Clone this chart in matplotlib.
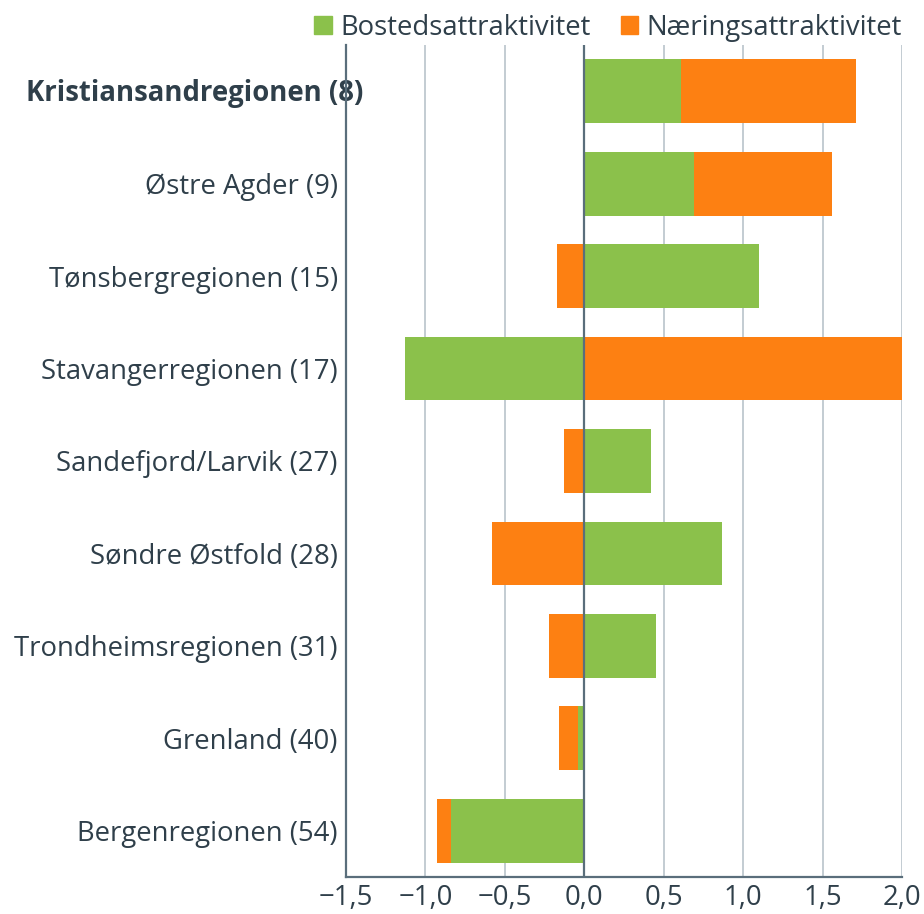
import matplotlib.pyplot as plt
import numpy as np
from matplotlib.ticker import FuncFormatter
from matplotlib.patches import Patch
from matplotlib.transforms import blended_transform_factory

plt.rcParams['font.family'] = ['Open Sans', 'DejaVu Sans']

regions = ['Kristiansandregionen (8)', 'Østre Agder (9)', 'Tønsbergregionen (15)',
           'Stavangerregionen (17)', 'Sandefjord/Larvik (27)', 'Søndre Østfold (28)',
           'Trondheimsregionen (31)', 'Grenland (40)', 'Bergenregionen (54)']
bosted = [0.61, 0.69, 1.10, -1.13, 0.42, 0.87, 0.45, -0.04, -0.84]
naering = [1.10, 0.87, -0.17, 2.10, -0.13, -0.58, -0.22, -0.12, -0.09]

green = '#8bc14b'
orange = '#fd8012'
txt = '#2f3f4a'
dark = '#5a6e7b'
fs = 19.8

fig = plt.figure(figsize=(9.24, 9.14), dpi=100)
ax = fig.add_axes([346/924, 1 - 877/914, (902-346)/924, (877-45)/914])

y = np.arange(len(regions))
b = np.array(bosted)
n = np.array(naering)
# stack negative onto negative, positive onto positive
n_left = np.where(np.sign(n) == np.sign(b), b, 0)

ax.barh(y, b, height=0.69, color=green, zorder=3)
ax.barh(y, n, left=n_left, height=0.69, color=orange, zorder=3)

ax.set_xlim(-1.5, 2.0)
ax.set_ylim(len(regions) - 0.5, -0.5)
ax.set_xticks(np.arange(-1.5, 2.01, 0.5))
ax.xaxis.set_major_formatter(FuncFormatter(lambda v, p: f'{v:.1f}'.replace('.', ',').replace('-', '\u2212')))
ax.grid(axis='x', color='#b9c4cb', linewidth=1.2, zorder=0)
ax.axvline(0, color=dark, linewidth=1.6, zorder=4)

ax.set_yticks(y)
ax.set_yticklabels([''] + regions[1:])
ax.tick_params(axis='y', length=0, pad=6, labelsize=fs, labelcolor=txt)
ax.tick_params(axis='x', length=0, pad=5, labelsize=fs, labelcolor=txt)

# bold first label sticks out over the axis line like in the original
ax.text(363/924, y[0] + 0.02, regions[0], transform=blended_transform_factory(fig.transFigure, ax.transData),
        ha='right', va='center', fontsize=fs, fontweight='bold', color=txt, zorder=1)

for s in ['top', 'right']:
    ax.spines[s].set_visible(False)
ax.spines['left'].set_color(dark)
ax.spines['left'].set_linewidth(1.6)
ax.spines['left'].set_zorder(5)
ax.spines['bottom'].set_color(dark)
ax.spines['bottom'].set_linewidth(1.6)

handles = [Patch(color=green, label='Bostedsattraktivitet'),
           Patch(color=orange, label='Næringsattraktivitet')]
leg = fig.legend(handles=handles, loc='upper right', bbox_to_anchor=(1.003, 1.012), ncol=2,
                 frameon=False, fontsize=fs, handlelength=0.65, handleheight=0.65,
                 handletextpad=0.3, columnspacing=1.1)
for t in leg.get_texts():
    t.set_color(txt)

plt.savefig('out.png', dpi=100)
